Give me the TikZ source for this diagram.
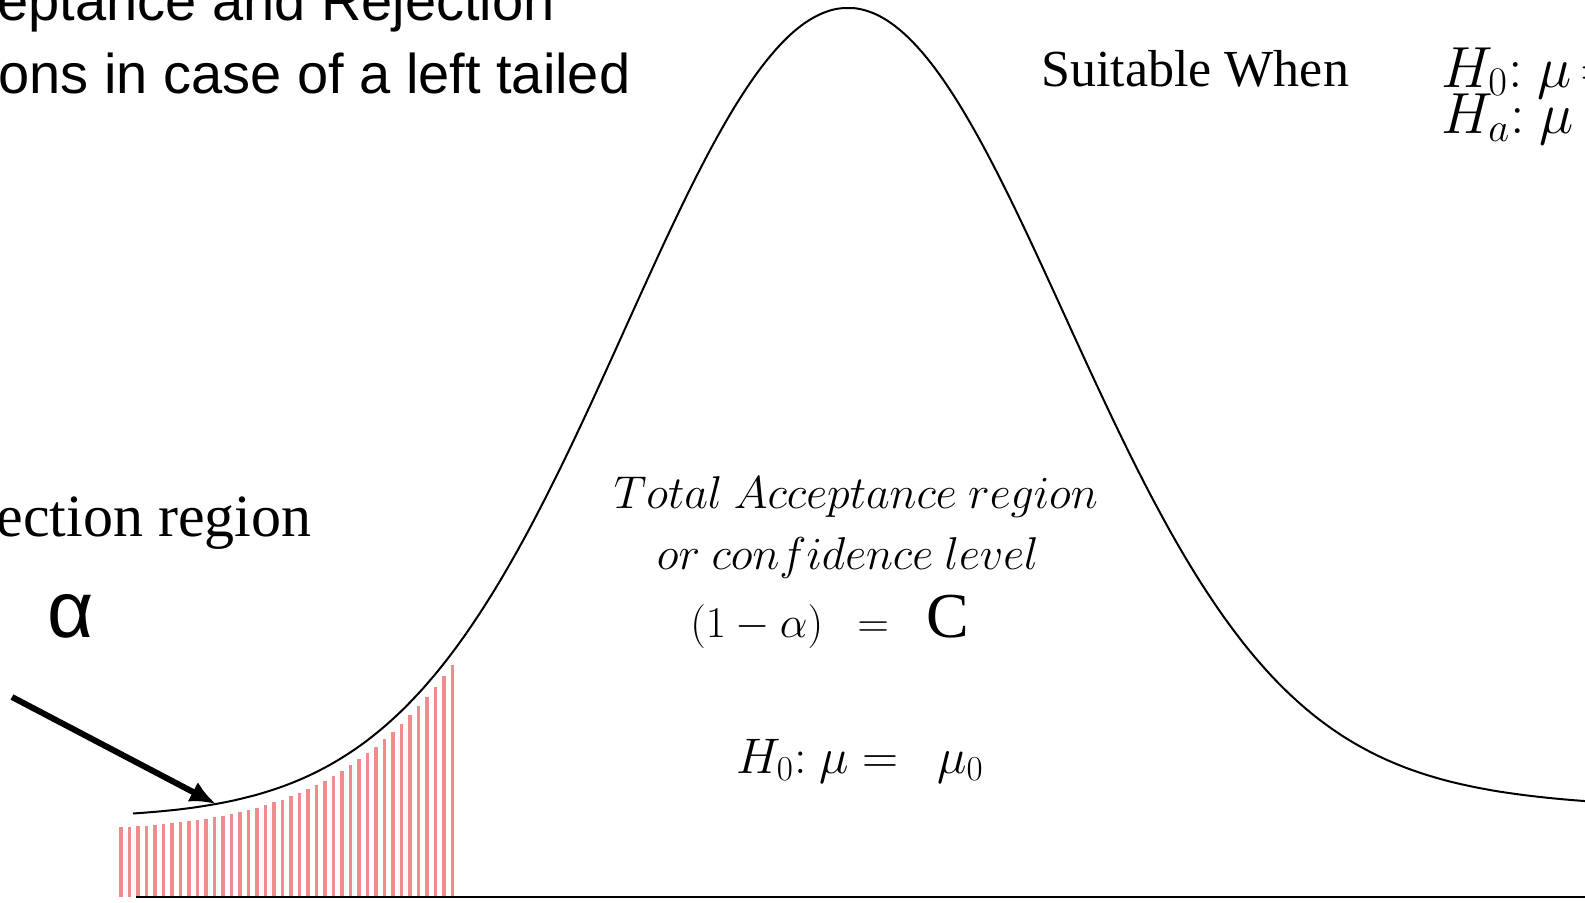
\documentclass[tikz,border=0pt]{standalone}
\usepackage{fix-cm}
\usepackage{fontspec}
\setmainfont{Liberation Serif}
\newfontfamily\sanslabel{Liberation Sans}
\newfontfamily\seriflabel{Liberation Serif}
\usetikzlibrary{arrows.meta}
\definecolor{hatchred}{RGB}{240,140,140}

\begin{document}
\begin{tikzpicture}[x=0.5pt,y=-0.5pt,
  lbl/.style={inner sep=0pt,anchor=base west},
  mid/.style={inner sep=0pt,anchor=base},
  bell/.style={line width=1pt},
  hatch/.style={hatchred,line width=1.6pt},
  pointer/.style={line width=3pt,-{Latex[length=13pt,width=11pt]}},
  declare function={
    lcurve(\x)=818-810*exp(-0.5*((\x-848)/222)*((\x-848)/222));
    rcurve(\x)=812-804*(0.94*exp(-0.5*((\x-848)/215)*((\x-848)/215))+0.06*exp(-0.5*((\x-848)/400)*((\x-848)/400)));}]
  \useasboundingbox (0,0) rectangle (1585,902);
  \clip (0,0) rectangle (1585,902);
  % rejection region under the left tail
  \foreach \hx in {121,129.5,...,459}
    \draw[hatch] (\hx,{lcurve(\hx)+13}) -- (\hx,897);
  \draw[line width=1.4pt] (136,897) -- (1590,897);
  \draw[bell] plot[domain=133:848,samples=100,smooth] (\x,{lcurve(\x)})
    -- plot[domain=848:1590,samples=100,smooth] (\x,{rcurve(\x)});

  \node[lbl,font=\sanslabel\fontsize{28}{33}\selectfont] (title1) at (-3,20) {eptance and Rejection};
  \node[lbl,font=\sanslabel\fontsize{28}{33}\selectfont] (title2) at (-2,93) {ons in case of a left tailed};
  \node[lbl,font=\seriflabel\fontsize{30}{36}\selectfont] (rejlabel) at (-4,536) {ection region};
  \node[inner sep=0pt,font=\sanslabel\fontsize{40}{44}\selectfont] (alphalabel) at (71,616) {α};
  \coordinate (tail) at (12,697);
  \coordinate (tip) at (216,{lcurve(216)});
  \draw[pointer] (tail) -- (tip);

  \node[lbl,font=\seriflabel\fontsize{26}{30}\selectfont] (suitable) at (1041,86) {Suitable When};
  \node[lbl,font=\fontsize{29}{30}\selectfont] (hnull) at (1441,87) {$H_0{:}\ \mu\mkern-2mu=$};
  \node[lbl,font=\fontsize{29}{30}\selectfont] (halt) at (1441,133) {$H_a{:}\ \mu\mkern-2mu\neq$};

  \node[mid,font=\fontsize{23}{28}\selectfont] (accept) at (856,508) {$Total\ Acceptance\ region$};
  \node[mid,font=\fontsize{23}{28}\selectfont] (conf) at (848,569) {$or\ confidence\ level$};
  \node[lbl,font=\fontsize{22}{26}\selectfont] (onemin) at (690,637) {$(1-\alpha)\ \ =$};
  \node[lbl,font=\seriflabel\fontsize{32}{32}\selectfont] (cval) at (926,637) {C};
  \node[lbl,font=\fontsize{25}{28}\selectfont] (hnullmid) at (736,773) {$H_0{:}\ \mu =\ \ \mu_0$};
\end{tikzpicture}
\end{document}
